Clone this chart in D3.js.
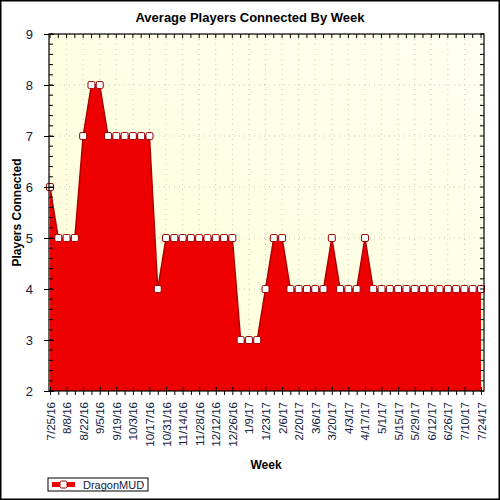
<!DOCTYPE html>
<html>
<head>
<meta charset="utf-8">
<script src="https://cdn.jsdelivr.net/npm/d3@7"></script>
<style>
  body { margin: 0; background: #fff; }
  text { font-family: "Liberation Sans", Arial, sans-serif; }
</style>
</head>
<body>
<div id="chart"></div>
<script>
const weeks = ["7/25/16", "8/1/16", "8/8/16", "8/15/16", "8/22/16", "8/29/16", "9/5/16", "9/12/16",
    "9/19/16", "9/26/16", "10/3/16", "10/10/16", "10/17/16", "10/24/16", "10/31/16", "11/7/16",
    "11/14/16", "11/21/16", "11/28/16", "12/5/16", "12/12/16", "12/19/16", "12/26/16", "1/2/17",
    "1/9/17", "1/16/17", "1/23/17", "1/30/17", "2/6/17", "2/13/17", "2/20/17", "2/27/17",
    "3/6/17", "3/13/17", "3/20/17", "3/27/17", "4/3/17", "4/10/17", "4/17/17", "4/24/17",
    "5/1/17", "5/8/17", "5/15/17", "5/22/17", "5/29/17", "6/5/17", "6/12/17", "6/19/17",
    "6/26/17", "7/3/17", "7/10/17", "7/17/17", "7/24/17"];

const players = [6, 5, 5, 5, 7, 8, 8, 7, 7, 7, 7, 7, 7, 4, 5, 5,
    5, 5, 5, 5, 5, 5, 5, 3, 3, 3, 4, 5, 5, 4, 4, 4,
    4, 4, 5, 4, 4, 4, 5, 4, 4, 4, 4, 4, 4, 4, 4, 4,
    4, 4, 4, 4, 4];

const yTicks = [2, 3, 4, 5, 6, 7, 8, 9];
const seriesName = "DragonMUD";

const width = 500;
const height = 500;
const plot = { left: 49, right: 484, top: 34, bottom: 391 };

const svg = d3.select("#chart").append("svg")
    .attr("width", width)
    .attr("height", height);

// outer frame
svg.append("rect")
    .attr("x", 0.75).attr("y", 0.75)
    .attr("width", width - 1.5).attr("height", height - 1.5)
    .attr("fill", "#fff")
    .attr("stroke", "#000")
    .attr("stroke-width", 1.5);

const grad = svg.append("defs").append("linearGradient")
    .attr("id", "bg")
    .attr("x1", "0%").attr("y1", "100%")
    .attr("x2", "100%").attr("y2", "0%");
grad.append("stop").attr("offset", "0%").attr("stop-color", "#ffffd8");
grad.append("stop").attr("offset", "100%").attr("stop-color", "#fffff0");

const x = d3.scalePoint()
    .domain(weeks)
    .range([50, 481]);

const y = d3.scaleLinear()
    .domain([2, 9])
    .range([plot.bottom, plot.top]);

svg.append("rect")
    .attr("x", plot.left).attr("y", plot.top)
    .attr("width", plot.right - plot.left)
    .attr("height", plot.bottom - plot.top)
    .attr("fill", "url(#bg)");

const labeled = weeks.filter((d, i) => i % 2 === 0);

// dotted grid
svg.append("g")
    .selectAll("line.vg")
    .data(labeled)
    .enter().append("line")
    .attr("x1", d => x(d)).attr("x2", d => x(d))
    .attr("y1", plot.top).attr("y2", plot.bottom)
    .attr("stroke", "#c8c8c8")
    .attr("stroke-dasharray", "1,4");

svg.append("g")
    .selectAll("line.hg")
    .data(yTicks)
    .enter().append("line")
    .attr("x1", plot.left).attr("x2", plot.right)
    .attr("y1", d => y(d)).attr("y2", d => y(d))
    .attr("stroke", "#c8c8c8")
    .attr("stroke-dasharray", "1,4");

// area
const area = d3.area()
    .x((d, i) => x(weeks[i]))
    .y0(y(2))
    .y1(d => y(d));

const line = d3.line()
    .x((d, i) => x(weeks[i]))
    .y(d => y(d));

svg.append("path")
    .datum(players)
    .attr("d", area)
    .attr("fill", "#ee0000");

svg.append("path")
    .datum(players)
    .attr("d", line)
    .attr("fill", "none")
    .attr("stroke", "#b00000")
    .attr("stroke-width", 1.5);

svg.append("g")
    .selectAll("rect")
    .data(players)
    .enter().append("rect")
    .attr("x", (d, i) => x(weeks[i]) - 3.5)
    .attr("y", d => y(d) - 3.5)
    .attr("width", 7)
    .attr("height", 7)
    .attr("rx", 1.5)
    .attr("fill", "#fff")
    .attr("stroke", "#a00000")
    .attr("stroke-width", 1);

// plot border lines
svg.append("rect")
    .attr("x", plot.left).attr("y", plot.top)
    .attr("width", plot.right - plot.left)
    .attr("height", plot.bottom - plot.top)
    .attr("fill", "none")
    .attr("stroke", "#000")
    .attr("stroke-width", 1.2);

// minor y ticks
const yMinor = d3.range(2, 9.001, 0.2);
svg.append("g").selectAll("line")
    .data(yMinor)
    .enter().append("line")
    .attr("x1", plot.left).attr("x2", plot.left + 4)
    .attr("y1", d => y(d)).attr("y2", d => y(d))
    .attr("stroke", "#000");
svg.append("g").selectAll("line")
    .data(yMinor)
    .enter().append("line")
    .attr("x1", plot.right).attr("x2", plot.right - 4)
    .attr("y1", d => y(d)).attr("y2", d => y(d))
    .attr("stroke", "#000");

// left axis
const yAxis = d3.axisLeft(y)
    .tickValues(yTicks)
    .tickSizeInner(4)
    .tickSizeOuter(0)
    .tickPadding(12)
    .tickFormat(d3.format("d"));

const gy = svg.append("g")
    .attr("transform", `translate(${plot.left},0)`)
    .call(yAxis);
gy.select(".domain").remove();
gy.selectAll(".tick line").attr("x1", 5).attr("x2", -5).attr("stroke", "#000");
gy.selectAll("text")
    .style("font-size", "13px")
    .attr("fill", "#102040");

// bottom axis, every week ticked, every other labeled
const xAxis = d3.axisBottom(x)
    .tickSizeInner(4)
    .tickSizeOuter(0)
    .tickFormat((d, i) => i % 2 === 0 ? d : "");

const gx = svg.append("g")
    .attr("transform", `translate(0,${plot.bottom})`)
    .call(xAxis);
gx.select(".domain").remove();
gx.selectAll(".tick line")
    .attr("y1", (d, i) => i % 2 === 0 ? -4 : 0)
    .attr("stroke", "#000");
gx.selectAll("text")
    .attr("transform", "rotate(-90)")
    .attr("text-anchor", "end")
    .attr("x", -11)
    .attr("y", 0)
    .attr("dy", "0.35em")
    .style("font-size", "11.5px")
    .attr("fill", "#102040");

// top ticks
svg.append("g").selectAll("line")
    .data(weeks)
    .enter().append("line")
    .attr("x1", d => x(d)).attr("x2", d => x(d))
    .attr("y1", plot.top).attr("y2", plot.top + 4)
    .attr("stroke", "#000");

// titles
svg.append("text")
    .attr("x", 250).attr("y", 22)
    .attr("text-anchor", "middle")
    .style("font-size", "13px")
    .style("font-weight", "bold")
    .text("Average Players Connected By Week");

svg.append("text")
    .attr("transform", `translate(21,${(plot.top + plot.bottom) / 2}) rotate(-90)`)
    .attr("text-anchor", "middle")
    .style("font-size", "12px")
    .style("font-weight", "bold")
    .text("Players Connected");

svg.append("text")
    .attr("x", 266).attr("y", 469)
    .attr("text-anchor", "middle")
    .style("font-size", "12px")
    .style("font-weight", "bold")
    .text("Week");

// legend
const legend = svg.append("g").attr("transform", "translate(48,478)");
legend.append("rect")
    .attr("width", 100).attr("height", 13)
    .attr("fill", "#fff")
    .attr("stroke", "#000");
legend.append("rect")
    .attr("x", 4).attr("y", 4)
    .attr("width", 23).attr("height", 5)
    .attr("fill", "#ee0000");
legend.append("rect")
    .attr("x", 12).attr("y", 3)
    .attr("width", 7).attr("height", 7)
    .attr("rx", 1.5)
    .attr("fill", "#fff")
    .attr("stroke", "#a00000");
legend.append("text")
    .attr("x", 35).attr("y", 10.5)
    .style("font-size", "11px")
    .attr("fill", "#102040")
    .text(seriesName);
</script>
</body>
</html>
